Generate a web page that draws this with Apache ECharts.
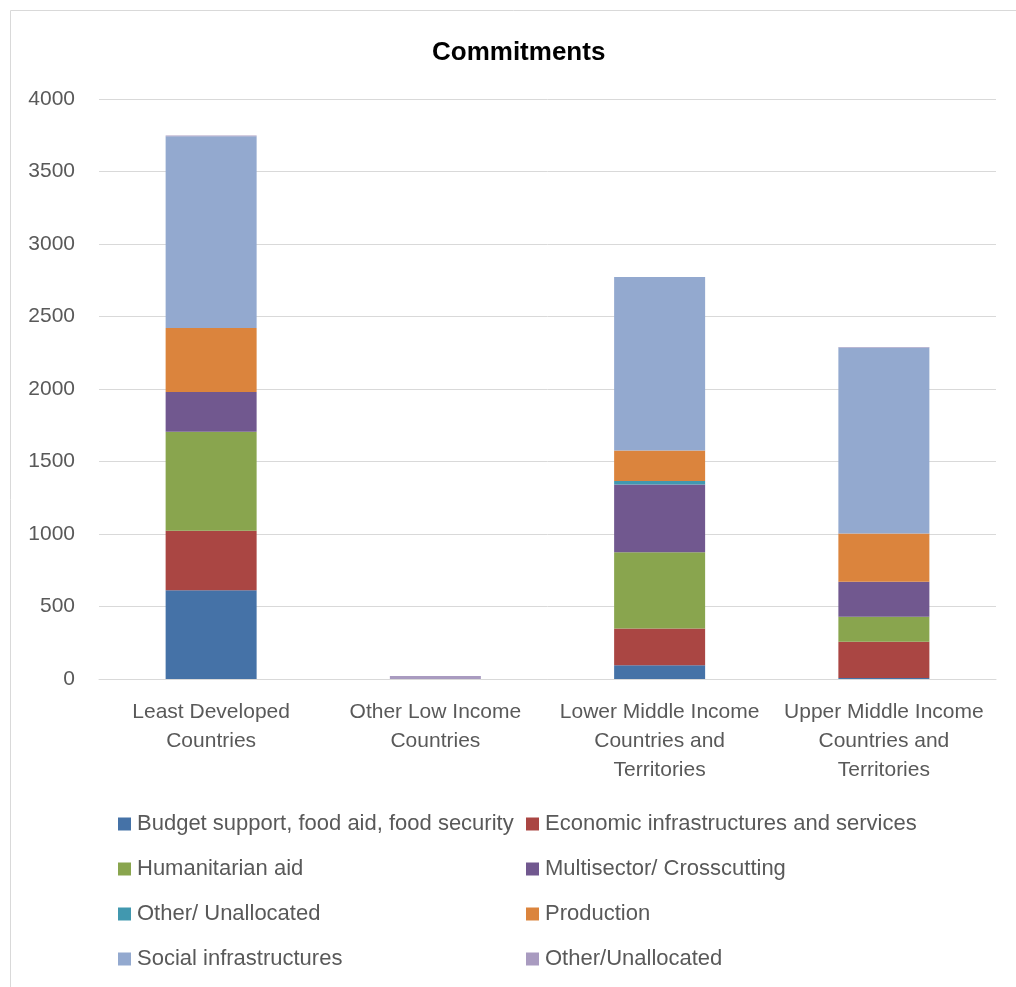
<!DOCTYPE html>
<html>
<head>
<meta charset="utf-8">
<script src="https://cdn.jsdelivr.net/npm/echarts@6/dist/echarts.min.js"></script>
<style>
  html, body { margin: 0; padding: 0; background: #fff; }
  #chart { width: 1016px; height: 987px; }
</style>
</head>
<body>
<div id="chart"></div>
<script>
const categories = [
  'Least Developed\nCountries',
  'Other Low Income\nCountries',
  'Lower Middle Income\nCountries and\nTerritories',
  'Upper Middle Income\nCountries and\nTerritories'
];
const seriesNames = [
  'Budget support, food aid, food security',
  'Economic infrastructures and services',
  'Humanitarian aid',
  'Multisector/ Crosscutting',
  'Other/ Unallocated',
  'Production',
  'Social infrastructures',
  'Other/Unallocated'
];
const budgetSupport   = [612, 0, 94, 7];
const economicInfra   = [411, 0, 255, 250];
const humanitarianAid = [683, 0, 526, 173];
const multisector     = [273, 0, 467, 241];
const otherUnalloc1   = [0, 0, 23, 0];
const production      = [442, 0, 211, 333];
const socialInfra     = [1322, 0, 1197, 1282];
const otherUnalloc2   = [6, 20, 0, 4];
const seriesValues = [budgetSupport, economicInfra, humanitarianAid, multisector,
                      otherUnalloc1, production, socialInfra, otherUnalloc2];
const colors = ['#4572A7', '#AA4643', '#89A54E', '#71588F', '#4198AF', '#DB843D', '#93A9CF', '#A99BC0'];
const yTicks = { min: 0, max: 4000, interval: 500 };

const FONT = '"Liberation Sans", Arial, sans-serif';
const legendText = { fontFamily: FONT, fontSize: 22, lineHeight: 22, color: '#595959', padding: [0, 0, 0, 1] };
const chart = echarts.init(document.getElementById('chart'));
chart.setOption({
  animation: false,
  color: colors,
  textStyle: { fontFamily: FONT },
  title: {
    text: 'Commitments',
    left: 429,
    top: 35,
    padding: [5, 3],
    textStyle: { fontFamily: FONT, fontSize: 26, fontWeight: 'bold', color: '#000' }
  },
  graphic: [{
    type: 'rect',
    shape: { x: 10.5, y: 10.5, width: 1100, height: 1100 },
    style: { fill: 'none', stroke: '#d9d9d9', lineWidth: 1 },
    silent: true
  }],
  legend: [
    {
      orient: 'vertical', left: 118, top: 813, padding: 0, itemWidth: 13, itemHeight: 13, itemGap: 23,
      icon: 'rect',
      data: [seriesNames[0], seriesNames[2], seriesNames[4], seriesNames[6]],
      textStyle: legendText
    },
    {
      orient: 'vertical', left: 526, top: 813, padding: 0, itemWidth: 13, itemHeight: 13, itemGap: 23,
      icon: 'rect',
      data: [seriesNames[1], seriesNames[3], seriesNames[5], seriesNames[7]],
      textStyle: legendText
    }
  ],
  grid: { left: 99, right: 20, top: 99, bottom: 308, containLabel: false },
  xAxis: {
    type: 'category',
    data: categories,
    axisLine: { lineStyle: { color: '#d9d9d9', width: 1 } },
    axisTick: { show: false },
    axisLabel: { color: '#595959', fontSize: 21, lineHeight: 29, margin: 19, interval: 0, fontFamily: FONT }
  },
  yAxis: {
    type: 'value',
    min: yTicks.min, max: yTicks.max, interval: yTicks.interval,
    axisLine: { show: false },
    axisTick: { show: false },
    splitLine: { lineStyle: { color: '#d9d9d9', width: 1 } },
    axisLabel: { color: '#595959', fontSize: 21, margin: 24, fontFamily: FONT, formatter: v => String(v) }
  },
  series: seriesNames.map((name, i) => ({
    name: name,
    type: 'bar',
    stack: 'total',
    barWidth: 91,
    data: seriesValues[i],
    itemStyle: { color: colors[i] }
  }))
});
</script>
</body>
</html>
